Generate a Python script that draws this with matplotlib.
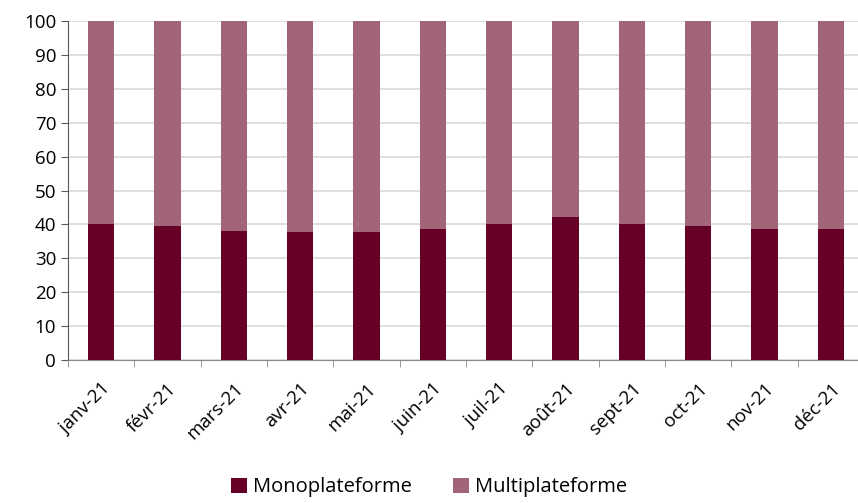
import matplotlib.pyplot as plt
import numpy as np

plt.rcParams['font.family'] = ['Open Sans', 'DejaVu Sans']

mois = ['janv-21', 'févr-21', 'mars-21', 'avr-21', 'mai-21', 'juin-21',
        'juil-21', 'août-21', 'sept-21', 'oct-21', 'nov-21', 'déc-21']
mono = [40.1, 39.5, 38.1, 37.8, 37.8, 38.6, 40.1, 42.2, 40.0, 39.5, 38.6, 38.6]
multi = [100 - v for v in mono]

dark = '#660027'
light = '#a26577'

fig = plt.figure(figsize=(8.58, 5.03), dpi=100)
ax = fig.add_axes([68 / 858, 1 - 360 / 503, (864 - 68) / 858, (360 - 21) / 503])

x = np.arange(len(mois))
ax.bar(x, mono, width=0.4, color=dark, label='Monoplateforme', zorder=3)
ax.bar(x, multi, width=0.4, bottom=mono, color=light, label='Multiplateforme', zorder=3)

ax.set_ylim(0, 100)
ax.set_xlim(-0.5, 11.5)
ax.set_yticks(range(0, 101, 10))
ax.yaxis.grid(True, color='#d9d9d9', linewidth=1.2, zorder=0)
ax.set_xticks(x)
ax.set_xticklabels(mois, rotation=45, ha='right', rotation_mode='anchor')
ax.set_xticks(np.arange(-0.5, 12, 1), minor=True)
ax.tick_params(axis='x', which='major', length=0, labelsize=13.5, pad=14)
ax.tick_params(axis='x', which='minor', length=5, color='#888888')
ax.tick_params(axis='y', labelsize=13.5, length=5, color='#595959')

for s in ['top', 'right']:
    ax.spines[s].set_visible(False)
ax.spines['left'].set_color('#595959')
ax.spines['bottom'].set_color('#888888')

fig.legend(loc='lower center', bbox_to_anchor=(0.5, -0.025), ncol=2, frameon=False,
           fontsize=14.5, handlelength=0.8, handleheight=0.8, handletextpad=0.3,
           columnspacing=2.0)

fig.savefig('out.png', dpi=100)
